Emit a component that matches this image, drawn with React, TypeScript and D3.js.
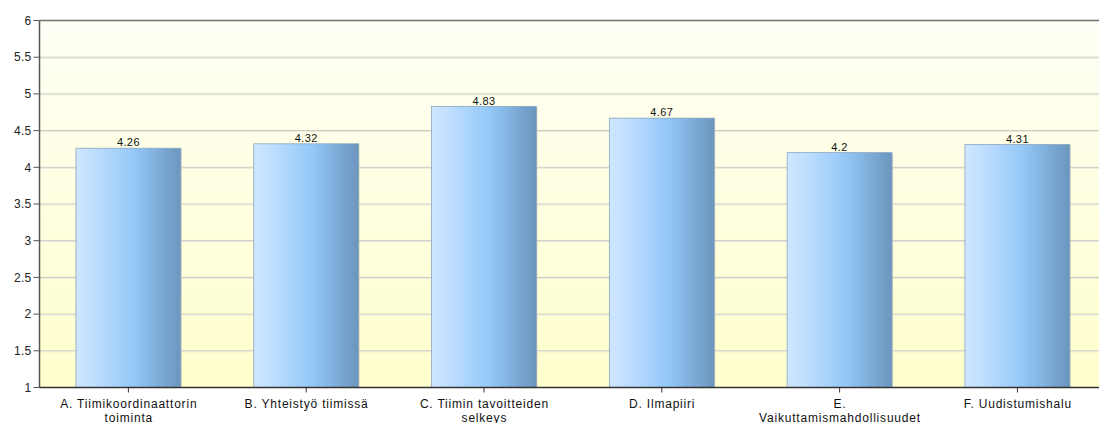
import React from "react";
import * as d3 from "d3";

const categories: string[][] = [
  ["A. Tiimikoordinaattorin", "toiminta"],
  ["B. Yhteistyö tiimissä"],
  ["C. Tiimin tavoitteiden", "selkeys"],
  ["D. Ilmapiiri"],
  ["E.", "Vaikuttamismahdollisuudet"],
  ["F. Uudistumishalu"],
];
const values: number[] = [4.26, 4.32, 4.83, 4.67, 4.2, 4.31];
const yTicks: number[] = [1, 1.5, 2, 2.5, 3, 3.5, 4, 4.5, 5, 5.5, 6];

const W = 1099;
const H = 423;
const left = 39.5;
const top = 20.5;
const bottom = 387.5;
const right = left + 6 * 177.8;

export default function App() {
  const keys = categories.map((c, i) => String(i));
  const x = d3.scaleBand<string>().domain(keys).range([left, right]).paddingInner(0.41).paddingOuter(0.205);
  const y = d3.scaleLinear().domain([1, 6]).range([bottom, top]);
  const font = "'Liberation Sans', Arial, sans-serif";
  return (
    <svg width={W} height={H} style={{ position: "absolute", left: 0, top: 0 }} fontFamily={font}>
      <defs>
        <linearGradient id="bg" x1="0" y1="0" x2="0" y2="1">
          <stop offset="0" stopColor="#fffff6" />
          <stop offset="1" stopColor="#ffffcc" />
        </linearGradient>
        <linearGradient id="bar" x1="0" y1="0" x2="1" y2="0">
          <stop offset="0" stopColor="#cfe6ff" />
          <stop offset="0.15" stopColor="#c2e0ff" />
          <stop offset="0.55" stopColor="#94c8f8" />
          <stop offset="1" stopColor="#6b95bd" />
        </linearGradient>
      </defs>
      <rect x={left} y={top} width={W - left} height={bottom - top} fill="url(#bg)" />
      {yTicks.map((t) => (
        <g key={t}>
          {t !== 1 && t !== 6 && (
            <>
              <line x1={left} x2={W} y1={y(t)} y2={y(t)} stroke="#c6c6c0" />
              <line x1={left} x2={W} y1={y(t) + 1} y2={y(t) + 1} stroke="#e8e8de" />
            </>
          )}
          <line x1={left - 6} x2={left} y1={y(t)} y2={y(t)} stroke="#555" />
          <text x={left - 8} y={y(t)} dy="0.35em" textAnchor="end" fontSize={12} fill="#222" letterSpacing={0.3}>
            {t}
          </text>
        </g>
      ))}
      <line x1={left} x2={W} y1={top} y2={top} stroke="#707070" strokeWidth={1.5} />
      {values.map((v, i) => {
        const bx = x(String(i))!;
        const bw = x.bandwidth();
        return (
          <g key={i}>
            <rect x={bx + 1} y={y(v) + 1} width={bw} height={bottom - y(v) - 1} fill="#c9c9b0" opacity={0.6} />
            <rect x={bx} y={y(v)} width={bw} height={bottom - y(v)} fill="url(#bar)" stroke="#8aa6c0" strokeWidth={0.8} />
            <text x={bx + bw / 2} y={y(v) - 1.8} textAnchor="middle" fontSize={11} fill="#111" letterSpacing={0.4}>
              {v}
            </text>
          </g>
        );
      })}
      <line x1={left} x2={left} y1={top} y2={bottom} stroke="#555" strokeWidth={1.5} />
      <line x1={left} x2={W} y1={bottom} y2={bottom} stroke="#333" strokeWidth={1.5} />
      {categories.map((lines, i) => {
        const cx = x(String(i))! + x.bandwidth() / 2;
        return (
          <g key={i}>
            <line x1={cx} x2={cx} y1={bottom} y2={bottom + 5} stroke="#333" />
            {lines.map((l, j) => (
              <text key={j} x={cx + 0.4} y={bottom + 20.5 + j * 13.5} textAnchor="middle" fontSize={12} fill="#111" letterSpacing={0.8}>
                {l}
              </text>
            ))}
          </g>
        );
      })}
    </svg>
  );
}
